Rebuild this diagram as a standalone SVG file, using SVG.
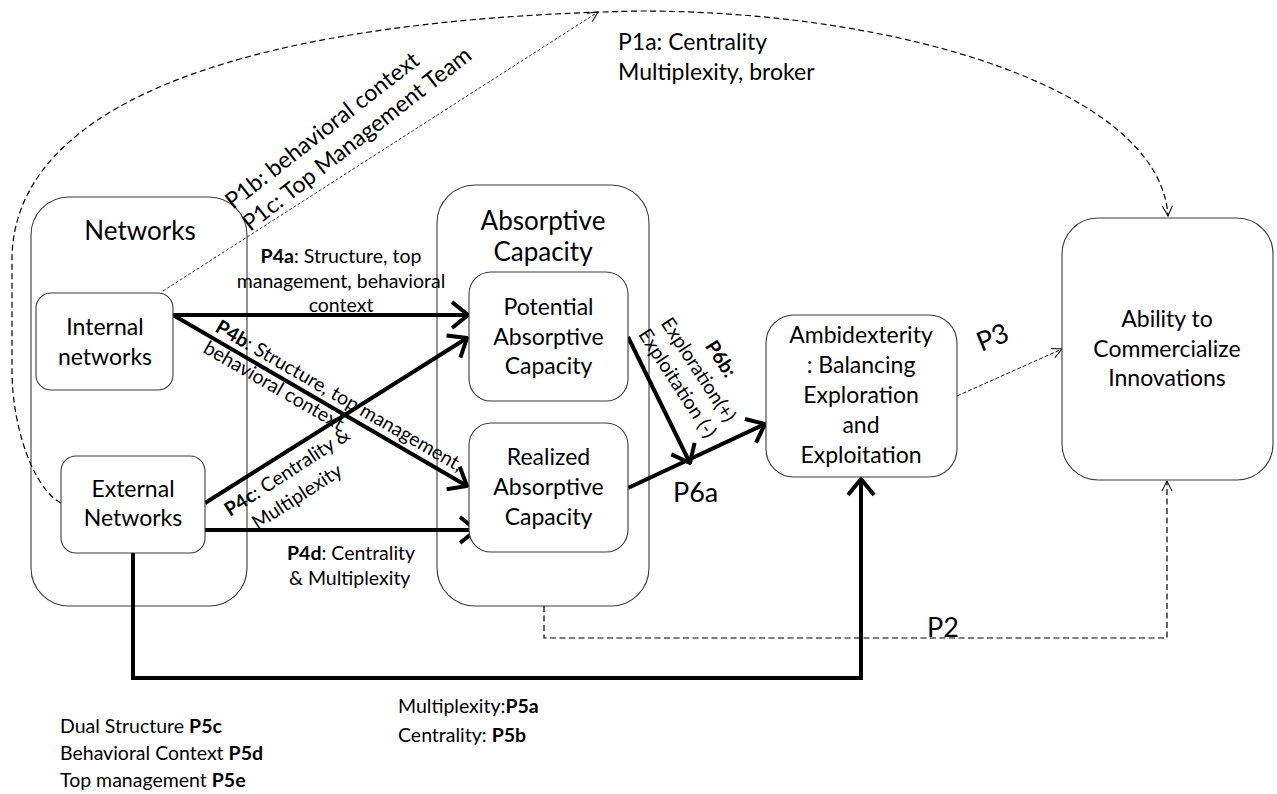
<svg xmlns="http://www.w3.org/2000/svg" width="1277" height="794" viewBox="0 0 1277 794">
<style>
  text { font-family: Lato, "Liberation Sans", sans-serif; fill: #000; }
  .box { fill: #fff; stroke: #3a3a3a; stroke-width: 1.1; }
  .node { font-size: 23px; text-anchor: middle; }
  .title { font-size: 26px; text-anchor: middle; }
  .lbl { font-size: 19.5px; }
  .p1 { font-size: 23px; }
  .big { font-size: 27px; }
  .thick { fill: none; stroke: #000; stroke-width: 4; }
  .dash { fill: none; stroke: #000; stroke-width: 1.2; stroke-dasharray: 6 3.5; }
  .dot { fill: none; stroke: #000; stroke-width: 0.8; stroke-dasharray: 3 2; }
  .b { font-weight: bold; }
</style>
<defs>
  <marker id="mThick" viewBox="0 0 20 30" refX="18" refY="15" markerWidth="20" markerHeight="30" orient="auto" markerUnits="userSpaceOnUse">
    <path d="M2,2 L18,15 L2,28" fill="none" stroke="#000" stroke-width="4"/>
  </marker>
  <marker id="mThin" viewBox="0 0 12 12" refX="11" refY="6" markerWidth="12" markerHeight="12" orient="auto" markerUnits="userSpaceOnUse">
    <path d="M1,1 L11,6 L1,11" fill="none" stroke="#000" stroke-width="1"/>
  </marker>
</defs>

<g id="networks">
  <rect class="box" x="31" y="197" width="216" height="409" rx="38" ry="38"/>
  <text class="title" x="140" y="240">Networks</text>
</g>
<g id="absorptive">
  <rect class="box" x="437" y="185" width="212" height="421" rx="38" ry="38"/>
  <text class="title" x="543" y="230">Absorptive</text>
  <text class="title" x="543" y="261">Capacity</text>
</g>

<g id="connectors">
  <path class="dash" d="M61,503 C35,490 12,430 12,370 L12,260 C12,120 200,20 640,11 C900,11 1160,90 1168,216" marker-end="url(#mThin)"/>
  <path class="dot" d="M163,291 L598,12" marker-end="url(#mThin)"/>
  <path class="thick" d="M173,315 L468,315" marker-end="url(#mThick)"/>
  <path class="thick" d="M173,315 L467,486" marker-end="url(#mThick)"/>
  <path class="thick" d="M205,503 L467,338" marker-end="url(#mThick)"/>
  <path class="thick" d="M205,530 L476,530" marker-end="url(#mThick)"/>
  <path class="thick" d="M628,337 L690,463" marker-end="url(#mThick)"/>
  <path class="thick" d="M628,488 L765,424" marker-end="url(#mThick)"/>
  <path class="thick" d="M133,553 L133,678 L861,678 L861,479" marker-end="url(#mThick)"/>
  <path class="dash" d="M544,606 L544,638 L1167,638 L1167,481" marker-end="url(#mThin)"/>
  <path class="dot" style="stroke-dasharray:4 2;stroke-width:0.9" d="M957,396 L1062,349" marker-end="url(#mThin)"/>
</g>

<g id="internal">
  <rect class="box" x="36" y="293" width="137" height="97" rx="15" ry="15"/>
  <text class="node" x="105" y="335">Internal</text>
  <text class="node" x="105" y="365">networks</text>
</g>
<g id="external">
  <rect class="box" x="61" y="456" width="144" height="97" rx="15" ry="15"/>
  <text class="node" x="133" y="497">External</text>
  <text class="node" x="133" y="526">Networks</text>
</g>
<g id="potential">
  <rect class="box" x="469" y="272" width="159" height="129" rx="22" ry="22"/>
  <text class="node" x="548.5" y="315">Potential</text>
  <text class="node" x="548.5" y="345">Absorptive</text>
  <text class="node" x="548.5" y="374">Capacity</text>
</g>
<g id="realized">
  <rect class="box" x="469" y="423" width="159" height="129" rx="22" ry="22"/>
  <text class="node" x="548.5" y="465">Realized</text>
  <text class="node" x="548.5" y="495">Absorptive</text>
  <text class="node" x="548.5" y="525">Capacity</text>
</g>
<g id="ambidexterity">
  <rect class="box" x="766" y="315" width="191" height="162" rx="28" ry="28"/>
  <text class="node" x="861" y="343">Ambidexterity</text>
  <text class="node" x="861" y="373">: Balancing</text>
  <text class="node" x="861" y="403">Exploration</text>
  <text class="node" x="861" y="433">and</text>
  <text class="node" x="861" y="463">Exploitation</text>
</g>
<g id="ability">
  <rect class="box" x="1062" y="218" width="211" height="262" rx="36" ry="36"/>
  <text class="node" x="1167" y="327">Ability to</text>
  <text class="node" x="1167" y="357">Commercialize</text>
  <text class="node" x="1167" y="386">Innovations</text>
</g>

<g id="labels">
  <text class="p1" x="618" y="50">P1a: Centrality</text>
  <text class="p1" x="618" y="80">Multiplexity, broker</text>
  <g transform="translate(233,210) rotate(-38)">
    <text class="p1" x="0" y="0">P1b: behavioral context</text>
    <text class="p1" x="0" y="28">P1c: Top Management Team</text>
  </g>
  <text class="lbl" x="341" y="263" text-anchor="middle"><tspan class="b">P4a</tspan>: Structure, top</text>
  <text class="lbl" x="341" y="288" text-anchor="middle">management, behavioral</text>
  <text class="lbl" x="341" y="312" text-anchor="middle">context</text>
  <g transform="translate(214,331) rotate(30)">
    <text class="lbl" x="0" y="0"><tspan class="b">P4b</tspan>: Structure, top management,</text>
    <text class="lbl" x="0" y="24">behavioral context</text>
  </g>
  <g transform="translate(230,517) rotate(-33)">
    <text class="lbl" x="0" y="0"><tspan class="b">P4c</tspan>: Centrality &amp;</text>
    <text class="lbl" x="16" y="26">Multiplexity</text>
  </g>
  <text class="lbl" x="287" y="560"><tspan class="b">P4d</tspan>: Centrality</text>
  <text class="lbl" x="289" y="585">&amp; Multiplexity</text>
  <g transform="translate(698,370) rotate(57)">
    <text class="lbl b" x="3" y="-18.5" text-anchor="middle">P6b:</text>
    <text class="lbl" x="0" y="6" text-anchor="middle">Exploration(+)</text>
    <text class="lbl" x="0" y="31" text-anchor="middle">Exploitation (-)</text>
  </g>
  <text class="big" x="673" y="502">P6a</text>
  <text class="big" transform="translate(996,346) rotate(-22)" text-anchor="middle">P3</text>
  <text class="big" x="927" y="637">P2</text>
  <text class="lbl" x="398" y="713">Multiplexity:<tspan class="b">P5a</tspan></text>
  <text class="lbl" x="398" y="742">Centrality: <tspan class="b">P5b</tspan></text>
  <text class="lbl" x="60" y="733">Dual Structure <tspan class="b">P5c</tspan></text>
  <text class="lbl" x="60" y="760">Behavioral Context <tspan class="b">P5d</tspan></text>
  <text class="lbl" x="60" y="787">Top management <tspan class="b">P5e</tspan></text>
</g>
</svg>
